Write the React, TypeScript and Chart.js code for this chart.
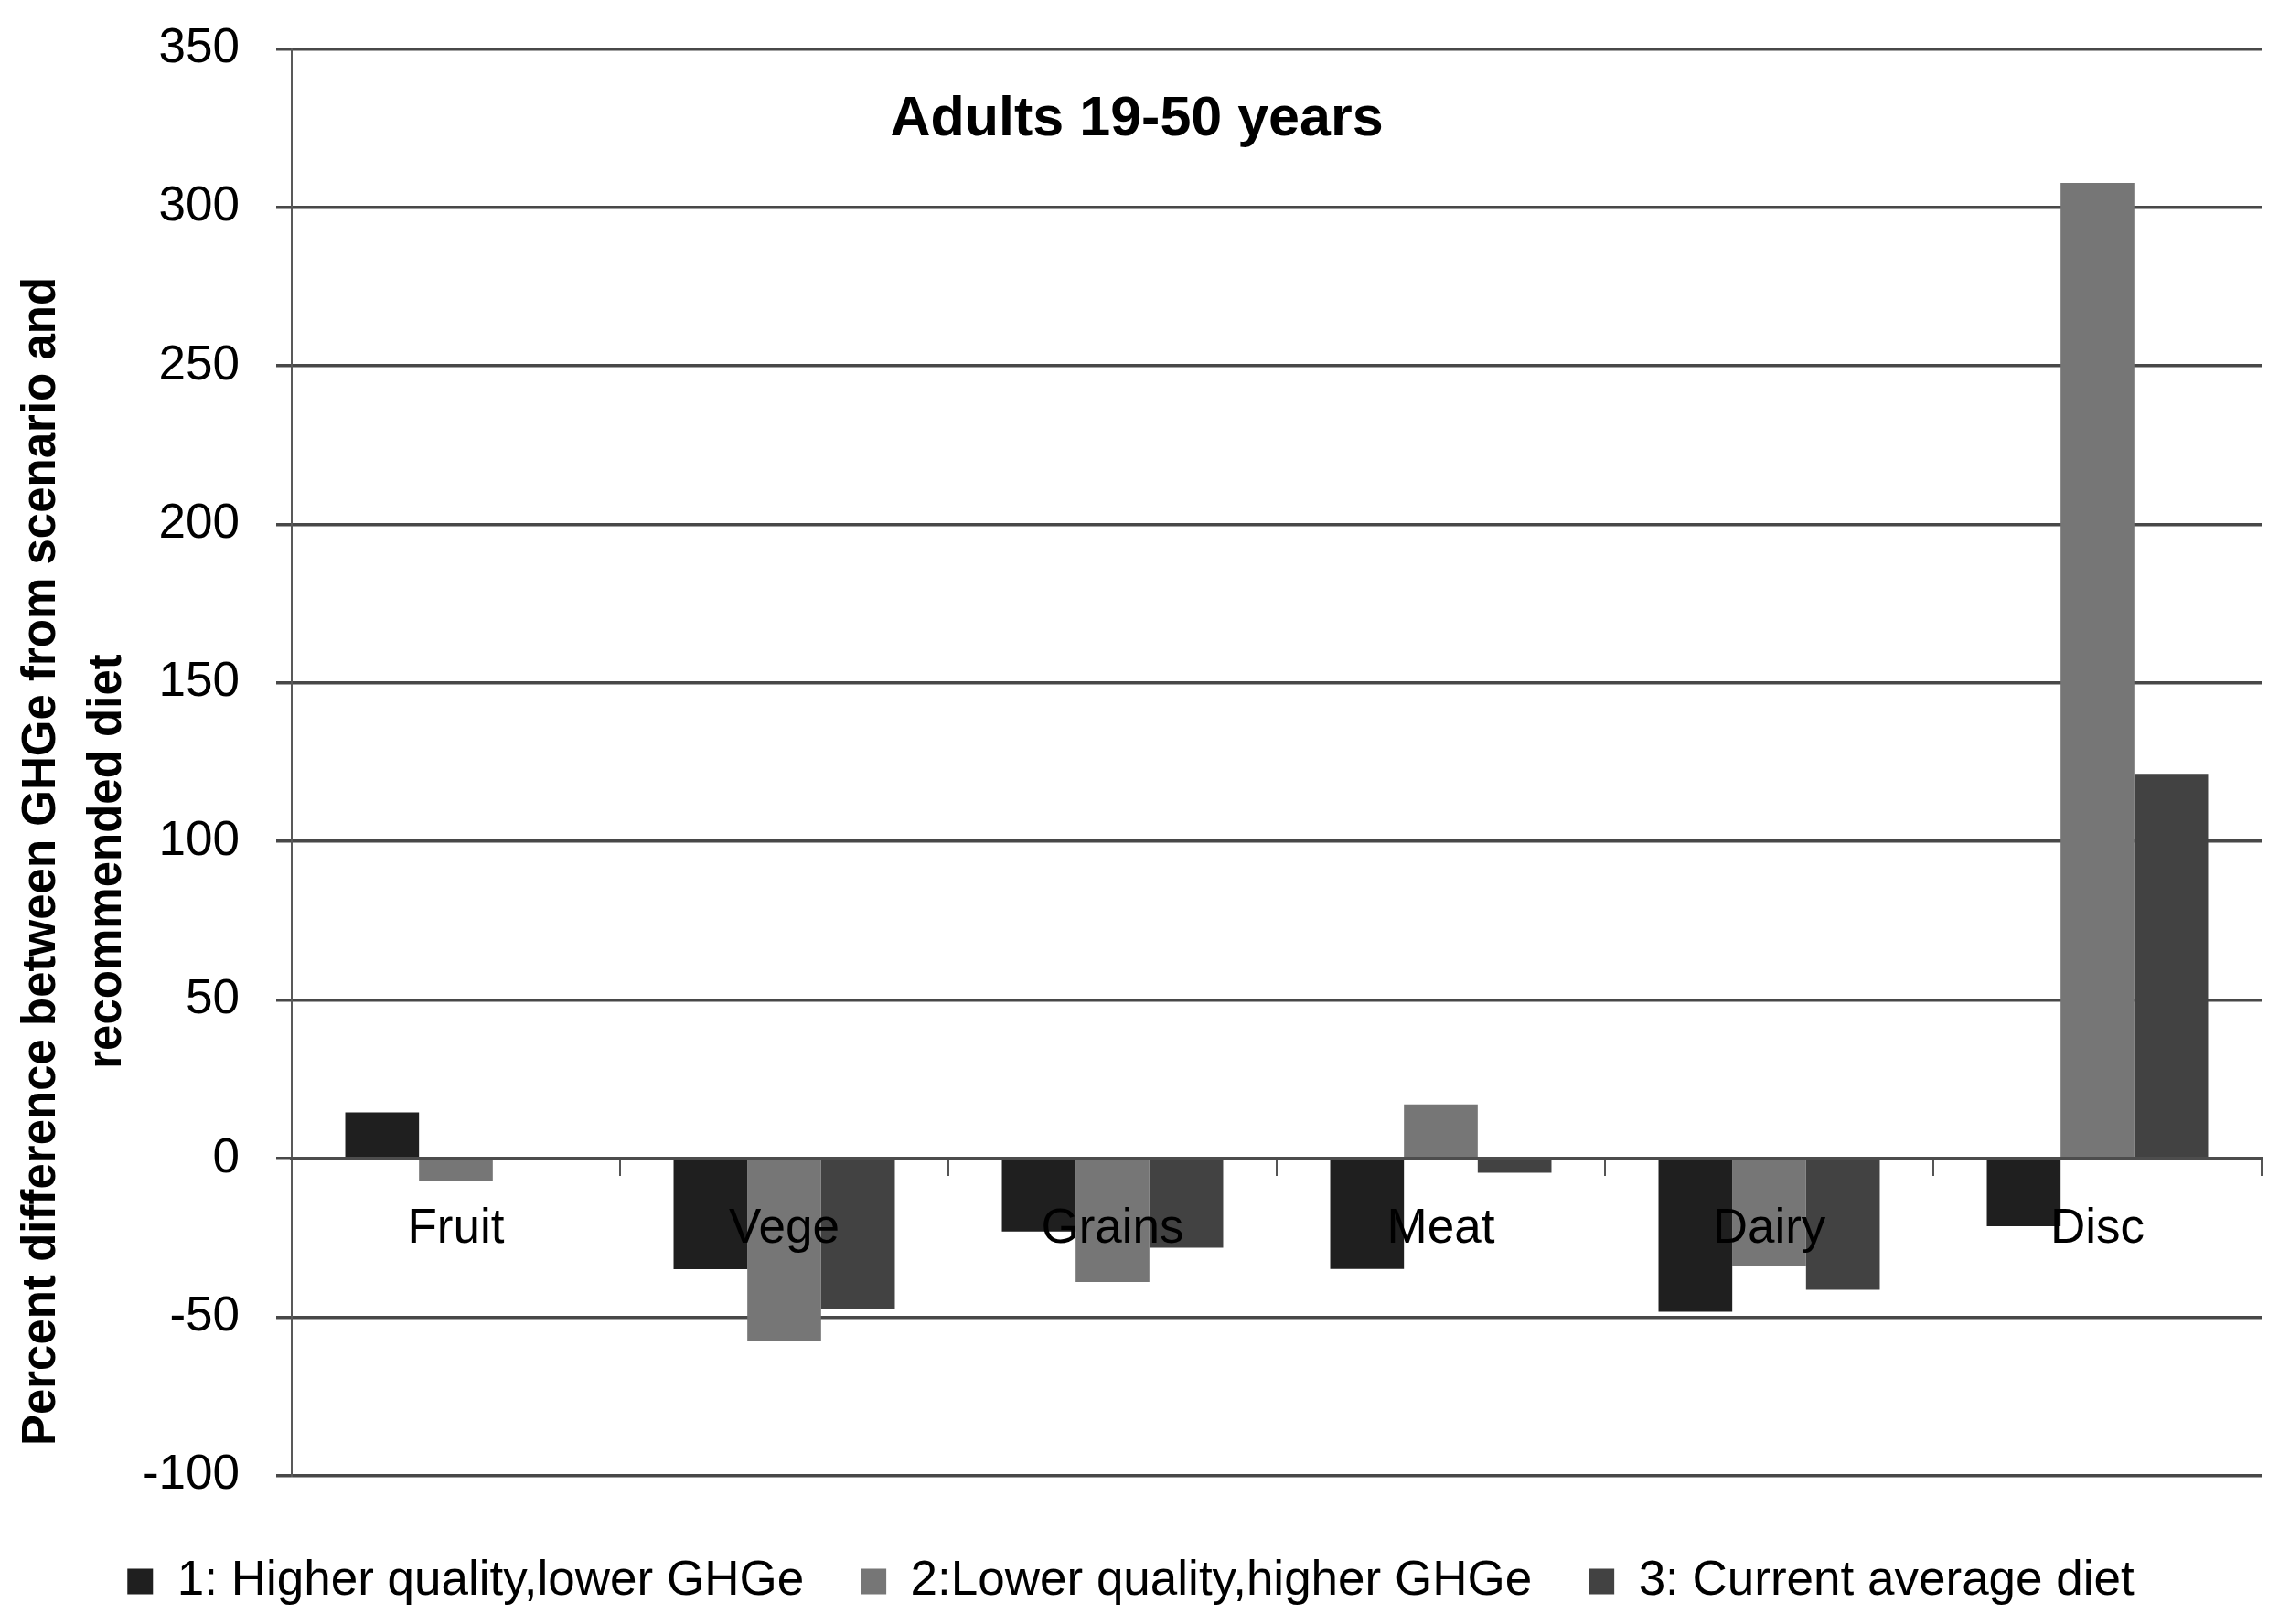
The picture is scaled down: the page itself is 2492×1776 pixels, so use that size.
import { useEffect, useRef } from 'react'
import { Chart, registerables } from 'chart.js'

Chart.register(...registerables)

const categories = ['Fruit', 'Vege', 'Grains', 'Meat', 'Dairy', 'Disc']
const higherQuality = [14.6, -34.9, -23.0, -34.8, -48.3, -21.3]
const lowerQuality = [-7.1, -57.4, -38.9, 17.1, -33.9, 307.7]
const currentDiet = [0, -47.5, -28.1, -4.5, -41.4, 121.3]
const seriesNames = ['1: Higher quality,lower GHGe', '2:Lower quality,higher GHGe', '3: Current average diet']
const yTitleLines = ['Percent difference between GHGe from scenario and', 'recommended diet']
const chartTitle = 'Adults 19-50 years'

const FONT = '"Liberation Sans", Arial, sans-serif'

// draws the in-plot title and the two-line rotated y axis title
const textPlugin = {
  id: 'extraText',
  afterDraw(chart: any) {
    const { ctx, chartArea } = chart
    ctx.save()
    ctx.fillStyle = '#000'
    ctx.font = `bold 61px ${FONT}`
    ctx.textAlign = 'center'
    ctx.textBaseline = 'alphabetic'
    const tx = chartArea.left + (chartArea.right - chartArea.left) * 0.429
    ctx.fillText(chartTitle, tx, chartArea.top + 95)

    ctx.font = `bold 51px ${FONT}`
    const cy = 942
    yTitleLines.forEach((line, i) => {
      ctx.save()
      ctx.translate(60 + i * 72, cy)
      ctx.rotate(-Math.PI / 2)
      ctx.fillText(line, 0, 0)
      ctx.restore()
    })
    ctx.restore()
  }
}

export default function App() {
  const canvasRef = useRef<HTMLCanvasElement>(null)
  const chartRef = useRef<Chart | null>(null)

  useEffect(() => {
    if (!canvasRef.current) return
    if (chartRef.current) chartRef.current.destroy()
    const ctx = canvasRef.current.getContext('2d')
    if (!ctx) return

    const colors = ['#1f1f1f', '#767676', '#424242']
    const values = [higherQuality, lowerQuality, currentDiet]

    chartRef.current = new Chart(ctx, {
      type: 'bar',
      data: {
        labels: categories,
        datasets: values.map((v, i) => ({
          label: seriesNames[i],
          data: v,
          backgroundColor: colors[i],
          borderWidth: 0,
          categoryPercentage: 0.674,
          barPercentage: 1.0
        }))
      },
      options: {
        animation: false,
        responsive: true,
        maintainAspectRatio: false,
        layout: {
          padding: { top: 34, right: 19, bottom: 10, left: 0 }
        },
        plugins: {
          title: { display: false },
          tooltip: { enabled: false },
          legend: {
            position: 'bottom',
            title: {
              display: true,
              text: ' ',
              font: { size: 1 },
              padding: { top: 26, bottom: 0 }
            },
            labels: {
              boxWidth: 28,
              boxHeight: 28,
              padding: 62,
              color: '#000',
              font: { family: FONT, size: 53 }
            }
          }
        },
        scales: {
          x: {
            position: { y: 0 },
            grid: {
              display: true,
              drawOnChartArea: false,
              drawTicks: true,
              tickLength: 17,
              color: '#555',
              lineWidth: 2
            },
            border: { display: true, color: '#4d4d4d', width: 4, z: 1 },
            ticks: {
              z: 1,
              color: '#000',
              padding: 29,
              font: { family: FONT, size: 53 }
            }
          },
          y: {
            min: -100,
            max: 350,
            afterFit: (scale: any) => {
              scale.width = 319
            },
            grid: {
              color: '#484848',
              lineWidth: 3.5,
              drawTicks: true,
              tickLength: 17
            },
            border: { display: true, color: '#595959', width: 2 },
            ticks: {
              stepSize: 50,
              color: '#000',
              padding: 40,
              font: { family: FONT, size: 53, lineHeight: 0.5 }
            }
          }
        }
      },
      plugins: [textPlugin]
    })

    return () => {
      if (chartRef.current) {
        chartRef.current.destroy()
        chartRef.current = null
      }
    }
  }, [])

  return (
    <div style={{ position: 'absolute', left: 0, top: 0, width: '2492px', height: '1776px', background: '#fff' }}>
      <canvas ref={canvasRef} />
    </div>
  )
}
